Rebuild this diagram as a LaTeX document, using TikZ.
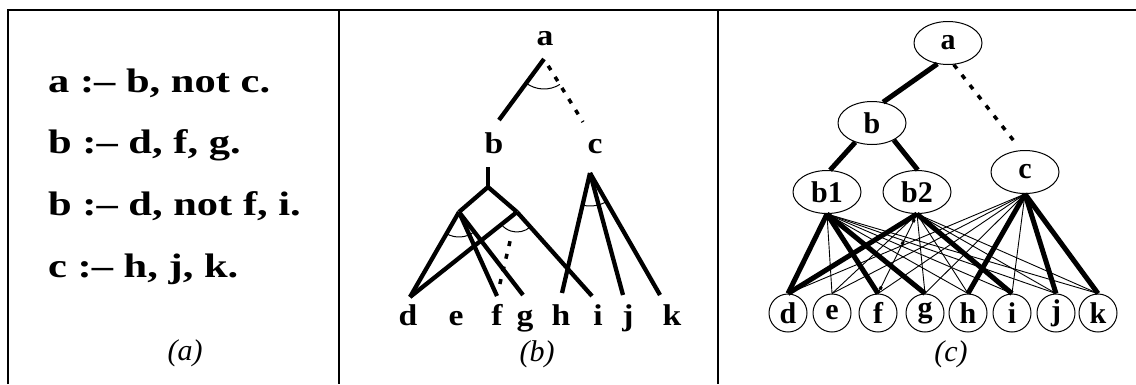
\documentclass[tikz,border=0pt]{standalone}
\usepackage{fontspec}
\setmainfont{Liberation Serif}
\newfontfamily\lbfont{Liberation Serif}[FakeStretch=1.12]
\usepackage{graphicx}
\usepackage{tikz}
\usetikzlibrary{calc,positioning,shapes.geometric}
\tikzset{
  frm/.style={line width=1.4pt},
  rl/.style={font=\fontsize{34}{34}\selectfont\bfseries,inner sep=0pt,anchor=base west},
  cp/.style={font=\fontsize{30}{30}\selectfont\itshape,inner sep=0pt,anchor=base},
  lb/.style={font=\lbfont\fontsize{30}{30}\selectfont\bfseries,inner sep=0pt,anchor=base},
  tk/.style={line width=4.3pt},
  dt/.style={line width=3.5pt,dash pattern=on 5pt off 8pt},
  ang/.style={line width=1pt},
  ov/.style={draw,ellipse,line width=1pt,minimum width=68pt,minimum height=43pt,inner sep=0pt,font=\fontsize{30}{30}\selectfont\bfseries},
  lf/.style={draw,circle,line width=1pt,minimum size=38pt,inner sep=0pt,font=\fontsize{30}{30}\selectfont\bfseries},
  hv/.style={line width=5pt},
  ln/.style={line width=0.9pt},
  tck/.style={line width=3pt,dash pattern=on 3pt off 22pt}
}
\begin{document}
\begin{tikzpicture}[x=1pt,y=-1pt]
\useasboundingbox (0,0) rectangle (1136,384);
\draw[frm] (8,384) -- (8,10) -- (1136,10);
\draw[frm] (339,10) -- (339,384);
\draw[frm] (718,10) -- (718,384);
\node[rl] (r1) at (48,92) {\scalebox{1.25}[1]{a :– b, not c.}};
\node[rl] (r2) at (48,153) {\scalebox{1.25}[1]{b :– d, f, g.}};
\node[rl] (r3) at (48,215) {\scalebox{1.25}[1]{b :– d, not f, i.}};
\node[rl] (r4) at (48,277) {\scalebox{1.25}[1]{c :– h, j, k.}};
\node[cp] (capa) at (185,360) {(a)};
\node[cp] (capb) at (537,361) {(b)};
\node[cp] (capc) at (951,361) {(c)};
% (b)
\node[lb] (ta) at (545,45) {a};
\node[lb] (tb) at (494,153) {b};
\node[lb] (tc) at (595,153) {c};
\foreach \n/\x in {d/408,e/456,f/497,g/525,h/561,i/598,j/628,k/672}
  \node[lb] (t\n) at (\x,325) {\n};
\coordinate (ta0) at (544,59);
\coordinate (tb0) at (499,120);
\coordinate (tc0) at (583,122);
\coordinate (tbs) at (488,167);
\coordinate (tbj) at (488,187);
\coordinate (tb1) at (459,212);
\coordinate (tb2) at (517,212);
\coordinate (tc1) at (590,173);
\foreach \n/\x/\y in {d/410/297,f/497/296,g/523/295,h/562/293,i/592/296,j/623/295,k/660/295}
  \coordinate (e\n) at (\x,\y);
\draw[tk] (ta0) -- (tb0);
\draw[dt,shorten <=8pt] (ta0) -- (tc0);
\draw[ang] (ta0) ++(58:30) arc[start angle=58,end angle=127,radius=30];
\draw[tk] (tbs) -- (tbj);
\draw[tk] (tb1) -- (tbj) -- (tb2);
\foreach \e in {ed,ef,eg} \draw[tk] (tb1) -- (\e);
\foreach \e in {ed,ei} \draw[tk] (tb2) -- (\e);
\draw[dt,shorten <=30pt,shorten >=9pt] (tb2) -- (ef);
\foreach \e in {eh,ej,ek} \draw[tk] (tc1) -- (\e);
\draw[ang] (tb1) ++(52:25) arc[start angle=52,end angle=120,radius=25];
\draw[ang] (tb2) ++(48:20) arc[start angle=48,end angle=141,radius=20];
\draw[ang] (tc1) ++(60:33) arc[start angle=60,end angle=103,radius=33];
% (c)
\node[ov] (ga) at (948,43) {a};
\node[ov] (gb) at (872,123) {b};
\node[ov] (gb1) at (827,192) {b1};
\node[ov] (gb2) at (917,192) {b2};
\node[ov] (gc) at (1025,172) {c};
\foreach \n/\x in {d/788,e/832,f/878,g/925,h/968,i/1012,j/1056,k/1098}
  \node[lf] (g\n) at (\x,313) {\n};
\draw[hv] (ga.243) -- (gb.62);
\draw[dt,shorten >=8pt] (ga.285) -- (gc.100);
\draw[hv] (gb.229) -- (gb1.82);
\draw[hv] (gb.322) -- (gb2.88);
\foreach \n in {e,h,i,j,k} \draw[ln] (gb1.south) -- (g\n.north);
\foreach \n in {e,f,g,h,j,k} \draw[ln] (gb2.south) -- (g\n.north);
\foreach \n in {d,e,f,g,i} \draw[ln] (gc.south) -- (g\n.north);
\foreach \n in {d,f,g} \draw[hv] (gb1.south) -- (g\n.north);
\foreach \n in {d,i} \draw[hv] (gb2.south) -- (g\n.north);
\foreach \n in {h,j,k} \draw[hv] (gc.south) -- (g\n.north);
\draw[tck,shorten <=6pt] (gb2.south) -- (gf.north);
\end{tikzpicture}
\end{document}
